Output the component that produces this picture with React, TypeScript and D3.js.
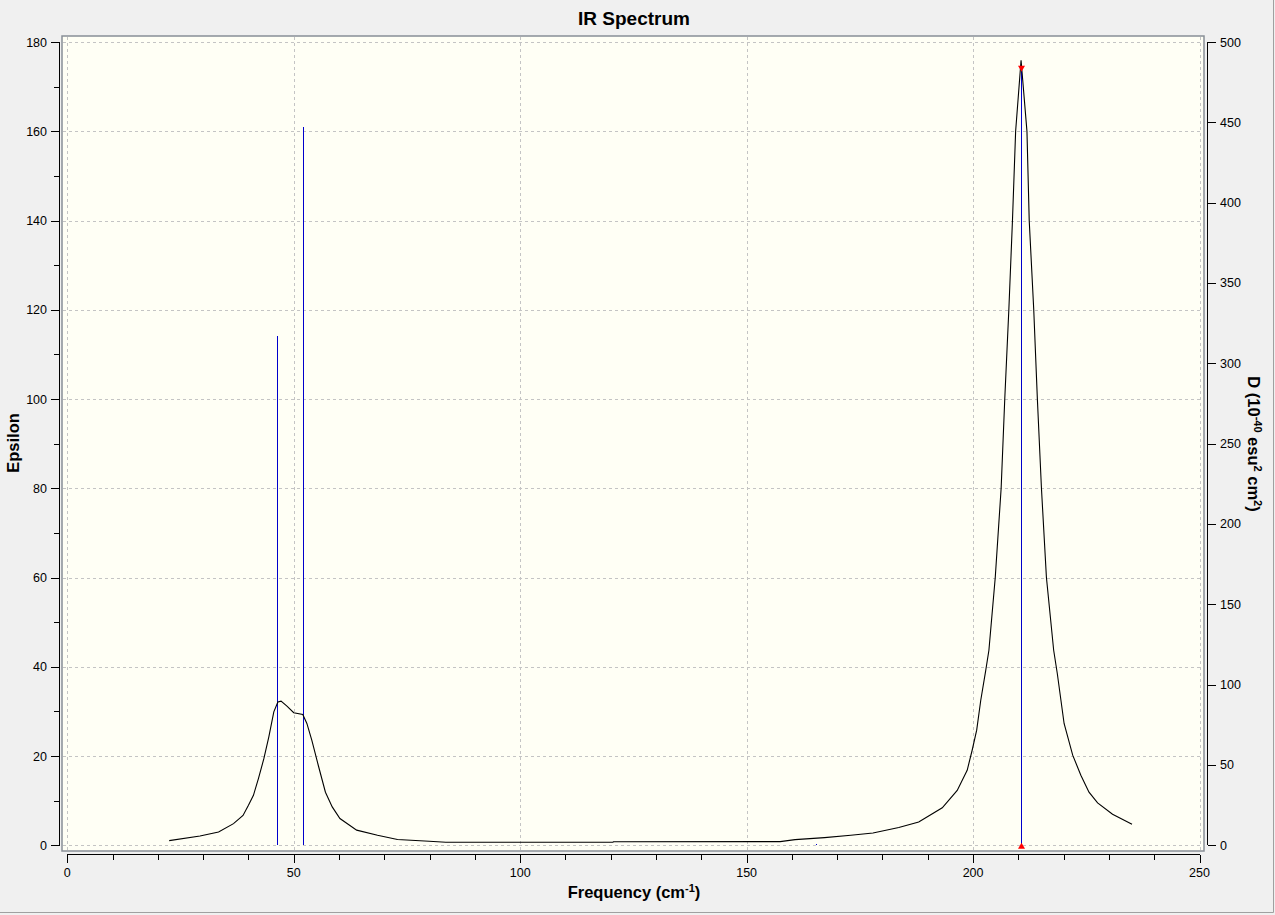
import React, { useRef, useEffect } from 'react';
import * as d3 from 'd3';

// Broadened spectrum (frequency cm-1, epsilon)
const curveFreq = [
  22.5, 29.3, 33.4, 36.7, 38.8, 40.0, 41.1, 42.2, 43.4, 44.5, 45.6, 46.5, 47.2, 48.5, 50.0,
  52.0, 52.9, 54.0, 55.5, 57.0, 58.5, 60.2, 63.9, 68.5, 72.9, 79.9, 83.6, 120.5, 120.6, 157.4,
  160.7, 167.2, 173.0, 177.9, 183.6, 188.0, 193.2, 196.5, 198.7, 199.8, 200.8, 201.7, 202.8,
  203.5, 204.9, 206.2, 207.0, 207.9, 208.7, 209.4, 210.6, 211.9, 212.4, 213.4, 214.2, 215.1,
  216.2, 217.8, 218.6, 220.1, 222.0, 223.8, 225.6, 227.5, 230.8, 235.1,
];
const curveEps = [
  1.05, 2.08, 2.98, 4.86, 6.7, 8.97, 11.2, 14.95, 19.4, 24.3, 29.9, 32.1, 32.3, 31.2, 29.7,
  29.3, 27.3, 23.5, 17.6, 11.9, 8.6, 6.0, 3.4, 2.24, 1.3, 0.9, 0.67, 0.72, 0.78, 0.82,
  1.28, 1.72, 2.24, 2.76, 3.97, 5.2, 8.4, 12.3, 16.8, 21.3, 25.8, 32.5, 39.2,
  43.7, 60, 80, 100, 120, 140, 160, 175.9, 160, 140, 120, 100, 80,
  60, 43.7, 38.5, 27.3, 20.2, 15.7, 11.9, 9.5, 6.95, 4.7,
];

// Stick spectrum
const stickFreq = [46.4, 52.1, 165.3, 210.6];
const stickEps = [114.1, 161.0, 0.4, 174.0];
const selectedStick = 3;

const xTicks = [0, 50, 100, 150, 200, 250];
const yTicks = [0, 20, 40, 60, 80, 100, 120, 140, 160, 180];
const dTicks = [0, 50, 100, 150, 200, 250, 300, 350, 400, 450, 500];

const W = 1275;
const H = 915;
const FONT = '"Liberation Sans", Arial, sans-serif';

const App: React.FC = () => {
  const svgRef = useRef<SVGSVGElement>(null);

  useEffect(() => {
    const svg = d3.select(svgRef.current);
    svg.selectAll('*').remove();

    const x = d3.scaleLinear().domain([0, 250]).range([67.3, 1199.5]);
    const y = d3.scaleLinear().domain([0, 180]).range([845.3, 42]);
    const yD = d3.scaleLinear().domain([0, 500]).range([845.3, 42]);

    // window frame
    svg.append('rect').attr('width', W).attr('height', H).attr('fill', '#f0f0f0');
    svg.append('path')
      .attr('d', `M${W - 1.5},0 V${H - 2.5} H0`)
      .attr('fill', 'none')
      .attr('stroke', '#a0a0a0')
      .attr('stroke-width', 1);

    // plot area
    svg.append('rect')
      .attr('x', 62).attr('y', 36)
      .attr('width', 1142).attr('height', 815)
      .attr('fill', '#fffff5')
      .attr('stroke', '#888e96')
      .attr('stroke-width', 1.5);

    // grid
    const grid = svg.append('g')
      .attr('stroke', '#c4c4c4')
      .attr('stroke-width', 1)
      .attr('stroke-dasharray', '3,3')
      .attr('shape-rendering', 'crispEdges');
    grid.selectAll('.gx').data(xTicks).enter().append('line')
      .attr('x1', d => Math.round(x(d)) + 0.5).attr('x2', d => Math.round(x(d)) + 0.5)
      .attr('y1', 37).attr('y2', 850);
    grid.selectAll('.gy').data(yTicks).enter().append('line')
      .attr('x1', 63).attr('x2', 1203)
      .attr('y1', d => Math.round(y(d)) + 0.5).attr('y2', d => Math.round(y(d)) + 0.5);

    // sticks
    svg.append('g').selectAll('line')
      .data(stickFreq.map((f, i) => ({ f, e: stickEps[i] })))
      .enter().append('line')
      .attr('x1', d => Math.round(x(d.f)) + 0.5).attr('x2', d => Math.round(x(d.f)) + 0.5)
      .attr('y1', y(0)).attr('y2', d => y(d.e))
      .attr('stroke', '#0000cc')
      .attr('stroke-width', 1)
      .attr('shape-rendering', 'crispEdges');

    // curve
    const line = d3.line<number>()
      .x((_, i) => x(curveFreq[i]))
      .y(d => y(d));
    svg.append('path')
      .datum(curveEps)
      .attr('d', line)
      .attr('fill', 'none')
      .attr('stroke', '#000')
      .attr('stroke-width', 1.1);

    // selected-peak markers
    const sx = Math.round(x(stickFreq[selectedStick])) + 0.5;
    const sy = y(stickEps[selectedStick]);
    svg.append('path')
      .attr('d', `M${sx - 3.5},${sy - 3} L${sx + 3.5},${sy - 3} L${sx},${sy + 3} Z`)
      .attr('fill', '#ff0000');
    svg.append('path')
      .attr('d', `M${sx - 3.5},${y(0) + 3.5} L${sx + 3.5},${y(0) + 3.5} L${sx},${y(0) - 2.5} Z`)
      .attr('fill', '#ff0000');

    const axisStroke = (sel: any) =>
      sel.attr('stroke', '#000').attr('stroke-width', 1).attr('shape-rendering', 'crispEdges');

    // left axis
    const left = svg.append('g');
    axisStroke(left.append('line').attr('x1', 59.5).attr('x2', 59.5).attr('y1', y(180)).attr('y2', y(0)));
    left.selectAll('.minor').data(d3.range(0, 181, 10)).enter().append('line')
      .call(axisStroke)
      .attr('x1', d => (d % 20 === 0 ? 51 : 53.5)).attr('x2', 59.5)
      .attr('y1', d => Math.round(y(d)) + 0.5).attr('y2', d => Math.round(y(d)) + 0.5);
    left.selectAll('text').data(yTicks).enter().append('text')
      .attr('x', 47).attr('y', d => y(d) + 4.5)
      .attr('text-anchor', 'end')
      .style('font', `12.5px ${FONT}`)
      .text(d => d);

    // right axis
    const right = svg.append('g');
    axisStroke(right.append('line').attr('x1', 1207.5).attr('x2', 1207.5).attr('y1', yD(500)).attr('y2', yD(0)));
    right.selectAll('.tick').data(dTicks).enter().append('line')
      .call(axisStroke)
      .attr('x1', 1207.5).attr('x2', 1215.5)
      .attr('y1', d => Math.round(yD(d)) + 0.5).attr('y2', d => Math.round(yD(d)) + 0.5);
    right.selectAll('text').data(dTicks).enter().append('text')
      .attr('x', 1220).attr('y', d => yD(d) + 4.5)
      .style('font', `12.5px ${FONT}`)
      .text(d => d);

    // bottom axis
    const bottom = svg.append('g');
    axisStroke(bottom.append('line').attr('x1', x(0)).attr('x2', x(250)).attr('y1', 854.5).attr('y2', 854.5));
    bottom.selectAll('.tick').data(d3.range(0, 251, 10)).enter().append('line')
      .call(axisStroke)
      .attr('x1', d => Math.round(x(d)) + 0.5).attr('x2', d => Math.round(x(d)) + 0.5)
      .attr('y1', 854.5).attr('y2', d => (d % 50 === 0 ? 862.5 : 859.5));
    bottom.selectAll('text').data(xTicks).enter().append('text')
      .attr('x', d => x(d)).attr('y', 877)
      .attr('text-anchor', 'middle')
      .style('font', `12.5px ${FONT}`)
      .text(d => d);

    // title and axis labels
    svg.append('text')
      .attr('x', 634).attr('y', 25)
      .attr('text-anchor', 'middle')
      .style('font', `bold 19px ${FONT}`)
      .text('IR Spectrum');

    const xl = svg.append('text')
      .attr('x', 634).attr('y', 898)
      .attr('text-anchor', 'middle')
      .style('font', `bold 16.5px ${FONT}`);
    xl.append('tspan').text('Frequency (cm');
    xl.append('tspan').attr('dy', -6).style('font-size', '11px').text('-1');
    xl.append('tspan').attr('dy', 6).text(')');

    svg.append('text')
      .attr('transform', 'translate(19,443) rotate(-90)')
      .attr('text-anchor', 'middle')
      .style('font', `bold 16.5px ${FONT}`)
      .text('Epsilon');

    const dl = svg.append('text')
      .attr('transform', 'translate(1248,444) rotate(90)')
      .attr('text-anchor', 'middle')
      .style('font', `bold 16.5px ${FONT}`);
    dl.append('tspan').text('D (10');
    dl.append('tspan').attr('dy', -6).style('font-size', '11px').text('-40');
    dl.append('tspan').attr('dy', 6).text(' esu');
    dl.append('tspan').attr('dy', -6).style('font-size', '11px').text('2');
    dl.append('tspan').attr('dy', 6).text(' cm');
    dl.append('tspan').attr('dy', -6).style('font-size', '11px').text('2');
    dl.append('tspan').attr('dy', 6).text(')');
  }, []);

  return (
    <div style={{ position: 'absolute', left: 0, top: 0 }}>
      <svg ref={svgRef} width={W} height={H} style={{ display: 'block' }} />
    </div>
  );
};

export default App;
